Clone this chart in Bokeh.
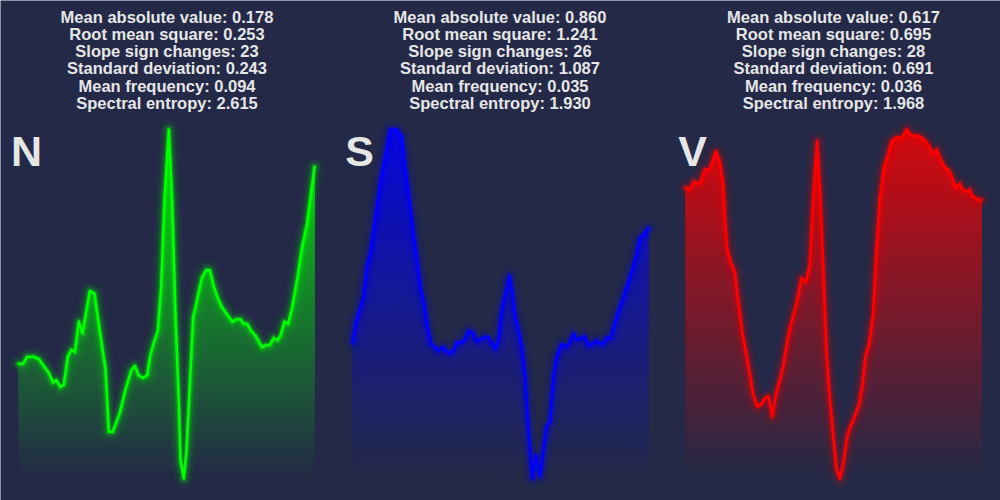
import numpy as np
from bokeh.plotting import figure
from bokeh.models import Range1d, Label
from bokeh.embed import file_html
from bokeh.resources import INLINE

# ---------------- data ----------------
classes = ["N", "S", "V"]
line_colors = ["#00ff00", "#0000ff", "#ff0000"]

n_t = [0, 2.6, 5, 9, 12, 15, 18, 20.6, 22.6, 25, 27, 29.4, 31.6, 33.6, 36, 38.2, 40.6, 42.6,
       45.4, 48.6, 52, 54, 56.4, 60.6, 64, 67.4, 69.6, 72, 74.6, 77, 79, 81, 83.4, 85.4, 87.4,
       90, 92, 94, 96, 97, 99, 100.6, 102.6, 104.6, 106, 108, 110, 112.4, 114.6, 117, 119.4,
       122, 125, 128.2, 130.6, 133, 135, 137, 139.4, 142, 146, 148.4, 150.6, 153, 155, 157,
       159.4, 161.6, 164, 167, 170, 173, 177.4]
n_amp = [0.00, 0.00, 0.03, 0.03, 0.02, -0.01, -0.04, -0.08, -0.07, -0.10, -0.09, 0.03, 0.06,
         0.05, 0.18, 0.13, 0.23, 0.31, 0.30, 0.14, -0.02, -0.29, -0.29, -0.21, -0.11, -0.03,
         -0.01, -0.05, -0.06, -0.05, 0.04, 0.09, 0.14, 0.33, 0.70, 1.00, 0.70, 0.21, -0.16,
         -0.41, -0.49, -0.37, -0.09, 0.20, 0.24, 0.31, 0.37, 0.40, 0.40, 0.33, 0.28, 0.24,
         0.21, 0.18, 0.19, 0.19, 0.17, 0.17, 0.14, 0.12, 0.07, 0.08, 0.08, 0.11, 0.10, 0.12,
         0.18, 0.17, 0.24, 0.36, 0.50, 0.60, 0.84]

s_t = [0.6, 2.6, 7, 9, 11, 14, 17, 20, 23, 27, 30, 32, 34.6, 37, 39.4, 41.4, 43.4, 45, 47.4,
       50, 52, 54.4, 56.6, 59, 61, 63, 65.4, 67.4, 70, 72.6, 75, 77.4, 80, 82, 84, 86, 88, 90,
       92.6, 94.6, 96, 98, 100, 102, 104, 105.4, 107, 108.4, 110.4, 113, 115, 117, 119, 121,
       123, 126, 128.4, 130.6, 133, 135, 137.4, 139.4, 142, 144.4, 147, 149, 151, 153, 155.4,
       158, 161, 164, 167, 170, 173, 175, 178]
s_amp = [0.01, 0.23, 0.50, 0.82, 0.95, 1.32, 1.71, 2.00, 2.29, 2.29, 2.21, 1.89, 1.54, 1.18,
         0.86, 0.57, 0.43, 0.21, 0.00, -0.05, -0.08, -0.04, -0.08, -0.11, -0.08, 0.01, 0.00,
         0.03, 0.13, 0.11, 0.02, 0.04, 0.07, 0.06, 0.00, -0.06, 0.04, 0.36, 0.57, 0.72, 0.57,
         0.29, 0.14, -0.04, -0.36, -0.79, -1.18, -1.45, -1.20, -1.43, -1.14, -0.89, -0.84,
         -0.36, -0.14, -0.01, -0.04, 0.00, 0.10, 0.04, 0.05, 0.07, -0.02, -0.01, 0.03, -0.01,
         0.00, 0.06, 0.05, 0.23, 0.39, 0.55, 0.71, 0.89, 1.13, 1.16, 1.23]

v_t = [0.6, 2.6, 5.4, 9, 12, 14.6, 16.6, 18.6, 21, 23, 24, 25.4, 27.4, 30, 32, 34.6, 37, 39,
       41, 43.4, 46, 48, 50.2, 52.6, 54.6, 57, 59, 61, 63.4, 66, 68, 70, 72.6, 75, 77, 79.4,
       81.4, 83.4, 85, 86.6, 89, 91, 93, 95, 97.4, 99.4, 102, 104.6, 106.6, 108.4, 110.6, 113,
       115, 117, 119.4, 122, 124, 127, 130.6, 133, 136, 139, 142, 144.6, 147, 149, 151, 153,
       156, 158, 160, 162.6, 165, 166.6, 169, 171, 172, 174, 176, 178]
v_amp = [0.56, 0.55, 0.59, 0.58, 0.65, 0.65, 0.69, 0.74, 0.69, 0.58, 0.42, 0.26, 0.19, 0.14,
         0.00, -0.17, -0.27, -0.37, -0.47, -0.53, -0.52, -0.49, -0.48, -0.58, -0.47, -0.40,
         -0.33, -0.23, -0.13, -0.05, 0.02, 0.11, 0.09, 0.17, 0.50, 0.79, 0.50, 0.08, -0.25,
         -0.45, -0.67, -0.84, -0.89, -0.82, -0.68, -0.63, -0.58, -0.52, -0.42, -0.28, -0.22,
         -0.07, 0.25, 0.50, 0.66, 0.73, 0.79, 0.81, 0.81, 0.85, 0.82, 0.82, 0.81, 0.79, 0.76,
         0.73, 0.75, 0.71, 0.66, 0.65, 0.62, 0.56, 0.58, 0.55, 0.54, 0.55, 0.52, 0.51, 0.50,
         0.50]

stat_names = ["Mean absolute value", "Root mean square", "Slope sign changes",
              "Standard deviation", "Mean frequency", "Spectral entropy"]
n_stats = [0.178, 0.253, 23, 0.243, 0.094, 2.615]
s_stats = [0.860, 1.241, 26, 1.087, 0.035, 1.930]
v_stats = [0.617, 0.695, 28, 0.691, 0.036, 1.968]

# ---------------- style ----------------
BG = "#232946"
TXT = "#e6e6e6"
FONT = "Liberation Sans"
W, H = 1000, 500
PANEL_OFFSETS = [0, 333, 666]
PANEL_W = [333, 333, 334]
T0, T1 = 0.0, 178.0
LEFT_PX, RIGHT_PX = 18.3, 315.0
TOP_PX, BOT_PX = 129.0, 478.0


def hex_to_rgb(h):
    h = h.lstrip("#")
    return tuple(int(h[i:i + 2], 16) for i in (0, 2, 4))


def blend(c, bg, a):
    c1, c2 = hex_to_rgb(c), hex_to_rgb(bg)
    return "#%02x%02x%02x" % tuple(int(round(a * x + (1 - a) * y)) for x, y in zip(c1, c2))


def fmt(v):
    return str(v) if isinstance(v, int) else f"{v:.3f}"


p = figure(width=W, height=H, output_backend="svg", toolbar_location=None,
           x_range=Range1d(0, W), y_range=Range1d(0, H),
           x_axis_location=None, y_axis_location=None, min_border=0,
           background_fill_color=BG, border_fill_color=BG, outline_line_color=None)
p.grid.visible = False


def panel(i, letter, t, amp, color, stats):
    off, width = PANEL_OFFSETS[i], PANEL_W[i]
    t = np.asarray(t, float)
    a = np.asarray(amp, float)
    amin, amax = a.min(), a.max()
    ppx = (RIGHT_PX - LEFT_PX) / (T1 - T0)
    ppy = (BOT_PX - TOP_PX) / (amax - amin)
    xs0 = T0 - (off + LEFT_PX) / ppx
    ys0 = amin - (H - BOT_PX) / ppy
    xn, yn = f"x{i}", f"y{i}"
    p.extra_x_ranges[xn] = Range1d(xs0, xs0 + W / ppx)
    p.extra_y_ranges[yn] = Range1d(ys0, ys0 + H / ppy)
    kw = dict(x_range_name=xn, y_range_name=yn)

    # gradient fill: stacked bands fading toward the bottom
    nb = 140
    levels = np.linspace(amin, amax, nb + 1)
    for k in range(nb):
        f = (k + 0.5) / nb
        col = blend(color, BG, 0.8 * f)
        p.varea(x=t, y1=np.minimum(a, levels[k]), y2=a, fill_color=col, **kw)

    # glow
    for w, al in [(18, 0.05), (12, 0.08), (8, 0.14), (5, 0.3)]:
        p.line(t, a, line_color=color, line_width=w, line_alpha=al,
               line_join="round", line_cap="round", **kw)
    p.line(t, a, line_color=color, line_width=2.6, line_join="round",
           line_cap="round", **kw)

    # stats text
    baselines = [16, 33.3, 50.6, 67.8, 85.1, 102.3]
    for name, val, yb in zip(stat_names, stats, baselines):
        p.add_layout(Label(x=off + width / 2, y=H - yb, x_units="screen", y_units="screen",
                           text=f"{name}: {fmt(val)}", text_align="center",
                           text_baseline="alphabetic", text_font=FONT,
                           text_font_style="bold", text_font_size="16.5px",
                           text_color=TXT))
    p.add_layout(Label(x=off + 26, y=H - 150.7, x_units="screen", y_units="screen",
                       text=letter, text_align="center", text_baseline="alphabetic",
                       text_font=FONT, text_font_style="bold", text_font_size="43px",
                       text_color=TXT))


panel(0, classes[0], n_t, n_amp, line_colors[0], n_stats)
panel(1, classes[1], s_t, s_amp, line_colors[1], s_stats)
panel(2, classes[2], v_t, v_amp, line_colors[2], v_stats)

html = file_html(p, INLINE)
html = html.replace("<body>", f'<body style="margin:0;background:{BG};">', 1)
open("out.html", "w").write(html)
